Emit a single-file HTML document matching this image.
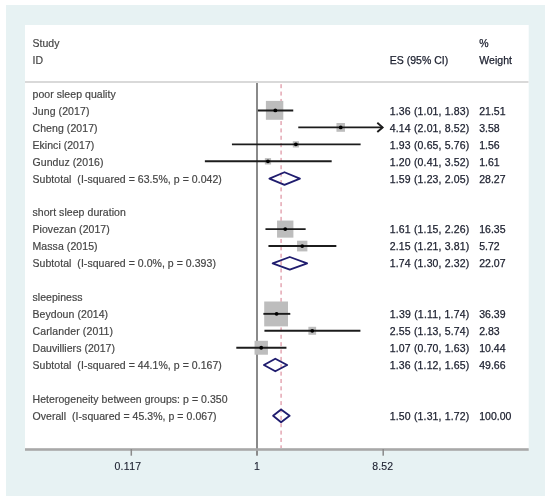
<!DOCTYPE html>
<html><head><meta charset="utf-8"><style>
html,body{margin:0;padding:0;background:#fff;width:550px;height:501px;overflow:hidden}
svg{display:block;filter:blur(0.55px)}
text{font-family:"Liberation Sans",sans-serif;font-size:10.5px}
</style></head><body>
<svg width="550" height="501" viewBox="0 0 550 501">
<rect x="6" y="5" width="539" height="491" fill="#e7f2f3"/>
<rect x="25" y="25" width="503.7" height="424" fill="#fff"/>
<rect x="25" y="81" width="503.5" height="2" fill="#d9d9d9"/>
<rect x="256" y="83" width="2" height="372.7" fill="#8a8a8a"/>
<line x1="281.07" y1="84.2" x2="281.07" y2="448" stroke="#d67a8c" stroke-width="1.0" stroke-dasharray="4 3.37"/>
<rect x="25" y="448.2" width="503.7" height="2.6" fill="#a8a8a8"/>
<rect x="130.55" y="449" width="1.5" height="6.7" fill="#8a8a8a"/>
<rect x="382.45" y="449" width="1.5" height="6.7" fill="#8a8a8a"/>
<rect x="265.90" y="100.90" width="17.40" height="18.90" fill="#bdbdbd"/>
<rect x="336.46" y="123.01" width="8.51" height="8.78" fill="#bdbdbd"/>
<rect x="292.80" y="141.20" width="6.16" height="6.31" fill="#bdbdbd"/>
<rect x="264.85" y="158.11" width="6.23" height="6.39" fill="#bdbdbd"/>
<rect x="277.05" y="220.57" width="16.36" height="17.07" fill="#bdbdbd"/>
<rect x="297.06" y="240.70" width="10.33" height="10.71" fill="#bdbdbd"/>
<rect x="264.20" y="301.50" width="23.80" height="24.90" fill="#bdbdbd"/>
<rect x="308.38" y="326.81" width="7.74" height="7.98" fill="#bdbdbd"/>
<rect x="254.53" y="340.78" width="13.39" height="13.94" fill="#bdbdbd"/>
<line x1="257.83" y1="110.45" x2="293.25" y2="110.45" stroke="#1c1c1c" stroke-width="1.9"/>
<circle cx="275.31" cy="110.45" r="1.9" fill="#000"/>
<line x1="298.27" y1="127.40" x2="382.60" y2="127.40" stroke="#1c1c1c" stroke-width="1.9"/>
<circle cx="340.72" cy="127.40" r="1.9" fill="#000"/>
<polyline points="377.30,122.80 382.60,127.40 377.30,132.00" fill="none" stroke="#1c1c1c" stroke-width="1.9"/>
<line x1="231.94" y1="144.35" x2="360.62" y2="144.35" stroke="#1c1c1c" stroke-width="1.9"/>
<circle cx="295.88" cy="144.35" r="1.9" fill="#000"/>
<line x1="204.87" y1="161.30" x2="331.68" y2="161.30" stroke="#1c1c1c" stroke-width="1.9"/>
<circle cx="267.96" cy="161.30" r="1.9" fill="#000"/>
<polygon points="269.41,178.55 284.49,172.25 299.92,178.55 284.49,184.85" fill="none" stroke="#1f1c6e" stroke-width="1.85" stroke-linejoin="round"/>
<line x1="265.46" y1="229.10" x2="305.65" y2="229.10" stroke="#1c1c1c" stroke-width="1.9"/>
<circle cx="285.23" cy="229.10" r="1.9" fill="#000"/>
<line x1="268.45" y1="246.05" x2="336.34" y2="246.05" stroke="#1c1c1c" stroke-width="1.9"/>
<circle cx="302.22" cy="246.05" r="1.9" fill="#000"/>
<polygon points="272.66,263.30 289.79,257.00 307.19,263.30 289.79,269.60" fill="none" stroke="#1f1c6e" stroke-width="1.85" stroke-linejoin="round"/>
<line x1="263.38" y1="313.85" x2="290.29" y2="313.85" stroke="#1c1c1c" stroke-width="1.9"/>
<circle cx="276.60" cy="313.85" r="1.9" fill="#000"/>
<line x1="264.43" y1="330.80" x2="360.41" y2="330.80" stroke="#1c1c1c" stroke-width="1.9"/>
<circle cx="312.25" cy="330.80" r="1.9" fill="#000"/>
<line x1="236.30" y1="347.75" x2="286.45" y2="347.75" stroke="#1c1c1c" stroke-width="1.9"/>
<circle cx="261.22" cy="347.75" r="1.9" fill="#000"/>
<polygon points="263.91,365.00 275.31,358.70 287.17,365.00 275.31,371.30" fill="none" stroke="#1f1c6e" stroke-width="1.85" stroke-linejoin="round"/>
<polygon points="273.11,415.85 281.07,409.55 289.61,415.85 281.07,422.15" fill="none" stroke="#1f1c6e" stroke-width="1.85" stroke-linejoin="round"/>
<text x="32.50" y="46.95" fill="#444444" stroke="#444444" stroke-width="0.18" textLength="26.92" lengthAdjust="spacing" xml:space="preserve">Study</text>
<text x="479.20" y="46.95" fill="#1b1f2e" stroke="#1b1f2e" stroke-width="0.25" textLength="9.17" lengthAdjust="spacing" xml:space="preserve">%</text>
<text x="32.50" y="63.90" fill="#444444" stroke="#444444" stroke-width="0.18" textLength="10.50" lengthAdjust="spacing" xml:space="preserve">ID</text>
<text x="389.80" y="63.90" fill="#1b1f2e" stroke="#1b1f2e" stroke-width="0.25" textLength="58.42" lengthAdjust="spacing" xml:space="preserve">ES (95% CI)</text>
<text x="479.20" y="63.90" fill="#1b1f2e" stroke="#1b1f2e" stroke-width="0.25" textLength="32.84" lengthAdjust="spacing" xml:space="preserve">Weight</text>
<text x="32.50" y="97.80" fill="#444444" stroke="#444444" stroke-width="0.18" textLength="83.15" lengthAdjust="spacing" xml:space="preserve">poor sleep quality</text>
<text x="32.50" y="114.75" fill="#444444" stroke="#444444" stroke-width="0.18" textLength="56.89" lengthAdjust="spacing" xml:space="preserve">Jung (2017)</text>
<text x="389.80" y="114.75" fill="#1b1f2e" stroke="#1b1f2e" stroke-width="0.25" textLength="79.50" lengthAdjust="spacing" xml:space="preserve">1.36 (1.01, 1.83)</text>
<text x="479.20" y="114.75" fill="#1b1f2e" stroke="#1b1f2e" stroke-width="0.25" textLength="26.28" lengthAdjust="spacing" xml:space="preserve">21.51</text>
<text x="32.50" y="131.70" fill="#444444" stroke="#444444" stroke-width="0.18" textLength="65.10" lengthAdjust="spacing" xml:space="preserve">Cheng (2017)</text>
<text x="389.80" y="131.70" fill="#1b1f2e" stroke="#1b1f2e" stroke-width="0.25" textLength="79.50" lengthAdjust="spacing" xml:space="preserve">4.14 (2.01, 8.52)</text>
<text x="479.20" y="131.70" fill="#1b1f2e" stroke="#1b1f2e" stroke-width="0.25" textLength="20.44" lengthAdjust="spacing" xml:space="preserve">3.58</text>
<text x="32.50" y="148.65" fill="#444444" stroke="#444444" stroke-width="0.18" textLength="61.76" lengthAdjust="spacing" xml:space="preserve">Ekinci (2017)</text>
<text x="389.80" y="148.65" fill="#1b1f2e" stroke="#1b1f2e" stroke-width="0.25" textLength="79.50" lengthAdjust="spacing" xml:space="preserve">1.93 (0.65, 5.76)</text>
<text x="479.20" y="148.65" fill="#1b1f2e" stroke="#1b1f2e" stroke-width="0.25" textLength="20.44" lengthAdjust="spacing" xml:space="preserve">1.56</text>
<text x="32.50" y="165.60" fill="#444444" stroke="#444444" stroke-width="0.18" textLength="71.02" lengthAdjust="spacing" xml:space="preserve">Gunduz (2016)</text>
<text x="389.80" y="165.60" fill="#1b1f2e" stroke="#1b1f2e" stroke-width="0.25" textLength="79.50" lengthAdjust="spacing" xml:space="preserve">1.20 (0.41, 3.52)</text>
<text x="479.20" y="165.60" fill="#1b1f2e" stroke="#1b1f2e" stroke-width="0.25" textLength="20.44" lengthAdjust="spacing" xml:space="preserve">1.61</text>
<text x="32.50" y="182.55" fill="#444444" stroke="#444444" stroke-width="0.18" textLength="189.31" lengthAdjust="spacing" xml:space="preserve">Subtotal  (I-squared = 63.5%, p = 0.042)</text>
<text x="389.80" y="182.55" fill="#1b1f2e" stroke="#1b1f2e" stroke-width="0.25" textLength="79.50" lengthAdjust="spacing" xml:space="preserve">1.59 (1.23, 2.05)</text>
<text x="479.20" y="182.55" fill="#1b1f2e" stroke="#1b1f2e" stroke-width="0.25" textLength="26.28" lengthAdjust="spacing" xml:space="preserve">28.27</text>
<text x="32.50" y="216.45" fill="#444444" stroke="#444444" stroke-width="0.18" textLength="93.36" lengthAdjust="spacing" xml:space="preserve">short sleep duration</text>
<text x="32.50" y="233.40" fill="#444444" stroke="#444444" stroke-width="0.18" textLength="77.23" lengthAdjust="spacing" xml:space="preserve">Piovezan (2017)</text>
<text x="389.80" y="233.40" fill="#1b1f2e" stroke="#1b1f2e" stroke-width="0.25" textLength="79.50" lengthAdjust="spacing" xml:space="preserve">1.61 (1.15, 2.26)</text>
<text x="479.20" y="233.40" fill="#1b1f2e" stroke="#1b1f2e" stroke-width="0.25" textLength="26.28" lengthAdjust="spacing" xml:space="preserve">16.35</text>
<text x="32.50" y="250.35" fill="#444444" stroke="#444444" stroke-width="0.18" textLength="65.10" lengthAdjust="spacing" xml:space="preserve">Massa (2015)</text>
<text x="389.80" y="250.35" fill="#1b1f2e" stroke="#1b1f2e" stroke-width="0.25" textLength="79.50" lengthAdjust="spacing" xml:space="preserve">2.15 (1.21, 3.81)</text>
<text x="479.20" y="250.35" fill="#1b1f2e" stroke="#1b1f2e" stroke-width="0.25" textLength="20.44" lengthAdjust="spacing" xml:space="preserve">5.72</text>
<text x="32.50" y="267.30" fill="#444444" stroke="#444444" stroke-width="0.18" textLength="183.39" lengthAdjust="spacing" xml:space="preserve">Subtotal  (I-squared = 0.0%, p = 0.393)</text>
<text x="389.80" y="267.30" fill="#1b1f2e" stroke="#1b1f2e" stroke-width="0.25" textLength="79.50" lengthAdjust="spacing" xml:space="preserve">1.74 (1.30, 2.32)</text>
<text x="479.20" y="267.30" fill="#1b1f2e" stroke="#1b1f2e" stroke-width="0.25" textLength="26.28" lengthAdjust="spacing" xml:space="preserve">22.07</text>
<text x="32.50" y="301.20" fill="#444444" stroke="#444444" stroke-width="0.18" textLength="49.93" lengthAdjust="spacing" xml:space="preserve">sleepiness</text>
<text x="32.50" y="318.15" fill="#444444" stroke="#444444" stroke-width="0.18" textLength="75.61" lengthAdjust="spacing" xml:space="preserve">Beydoun (2014)</text>
<text x="389.80" y="318.15" fill="#1b1f2e" stroke="#1b1f2e" stroke-width="0.25" textLength="79.50" lengthAdjust="spacing" xml:space="preserve">1.39 (1.11, 1.74)</text>
<text x="479.20" y="318.15" fill="#1b1f2e" stroke="#1b1f2e" stroke-width="0.25" textLength="26.28" lengthAdjust="spacing" xml:space="preserve">36.39</text>
<text x="32.50" y="335.10" fill="#444444" stroke="#444444" stroke-width="0.18" textLength="80.56" lengthAdjust="spacing" xml:space="preserve">Carlander (2011)</text>
<text x="389.80" y="335.10" fill="#1b1f2e" stroke="#1b1f2e" stroke-width="0.25" textLength="79.50" lengthAdjust="spacing" xml:space="preserve">2.55 (1.13, 5.74)</text>
<text x="479.20" y="335.10" fill="#1b1f2e" stroke="#1b1f2e" stroke-width="0.25" textLength="20.44" lengthAdjust="spacing" xml:space="preserve">2.83</text>
<text x="32.50" y="352.05" fill="#444444" stroke="#444444" stroke-width="0.18" textLength="82.47" lengthAdjust="spacing" xml:space="preserve">Dauvilliers (2017)</text>
<text x="389.80" y="352.05" fill="#1b1f2e" stroke="#1b1f2e" stroke-width="0.25" textLength="79.50" lengthAdjust="spacing" xml:space="preserve">1.07 (0.70, 1.63)</text>
<text x="479.20" y="352.05" fill="#1b1f2e" stroke="#1b1f2e" stroke-width="0.25" textLength="26.28" lengthAdjust="spacing" xml:space="preserve">10.44</text>
<text x="32.50" y="369.00" fill="#444444" stroke="#444444" stroke-width="0.18" textLength="189.31" lengthAdjust="spacing" xml:space="preserve">Subtotal  (I-squared = 44.1%, p = 0.167)</text>
<text x="389.80" y="369.00" fill="#1b1f2e" stroke="#1b1f2e" stroke-width="0.25" textLength="79.50" lengthAdjust="spacing" xml:space="preserve">1.36 (1.12, 1.65)</text>
<text x="479.20" y="369.00" fill="#1b1f2e" stroke="#1b1f2e" stroke-width="0.25" textLength="26.28" lengthAdjust="spacing" xml:space="preserve">49.66</text>
<text x="32.50" y="402.90" fill="#444444" stroke="#444444" stroke-width="0.18" textLength="195.09" lengthAdjust="spacing" xml:space="preserve">Heterogeneity between groups: p = 0.350</text>
<text x="32.50" y="419.85" fill="#444444" stroke="#444444" stroke-width="0.18" textLength="184.05" lengthAdjust="spacing" xml:space="preserve">Overall  (I-squared = 45.3%, p = 0.067)</text>
<text x="389.80" y="419.85" fill="#1b1f2e" stroke="#1b1f2e" stroke-width="0.25" textLength="79.50" lengthAdjust="spacing" xml:space="preserve">1.50 (1.31, 1.72)</text>
<text x="479.20" y="419.85" fill="#1b1f2e" stroke="#1b1f2e" stroke-width="0.25" textLength="32.12" lengthAdjust="spacing" xml:space="preserve">100.00</text>
<text x="127.80" y="470.30" fill="#1b1f2e" stroke="#1b1f2e" stroke-width="0.12" textLength="26.64" lengthAdjust="spacing" text-anchor="middle" xml:space="preserve">0.117</text>
<text x="257.00" y="470.30" fill="#1b1f2e" stroke="#1b1f2e" stroke-width="0.12" textLength="5.92" lengthAdjust="spacing" text-anchor="middle" xml:space="preserve">1</text>
<text x="382.70" y="470.30" fill="#1b1f2e" stroke="#1b1f2e" stroke-width="0.12" textLength="20.72" lengthAdjust="spacing" text-anchor="middle" xml:space="preserve">8.52</text>
</svg>
</body></html>
